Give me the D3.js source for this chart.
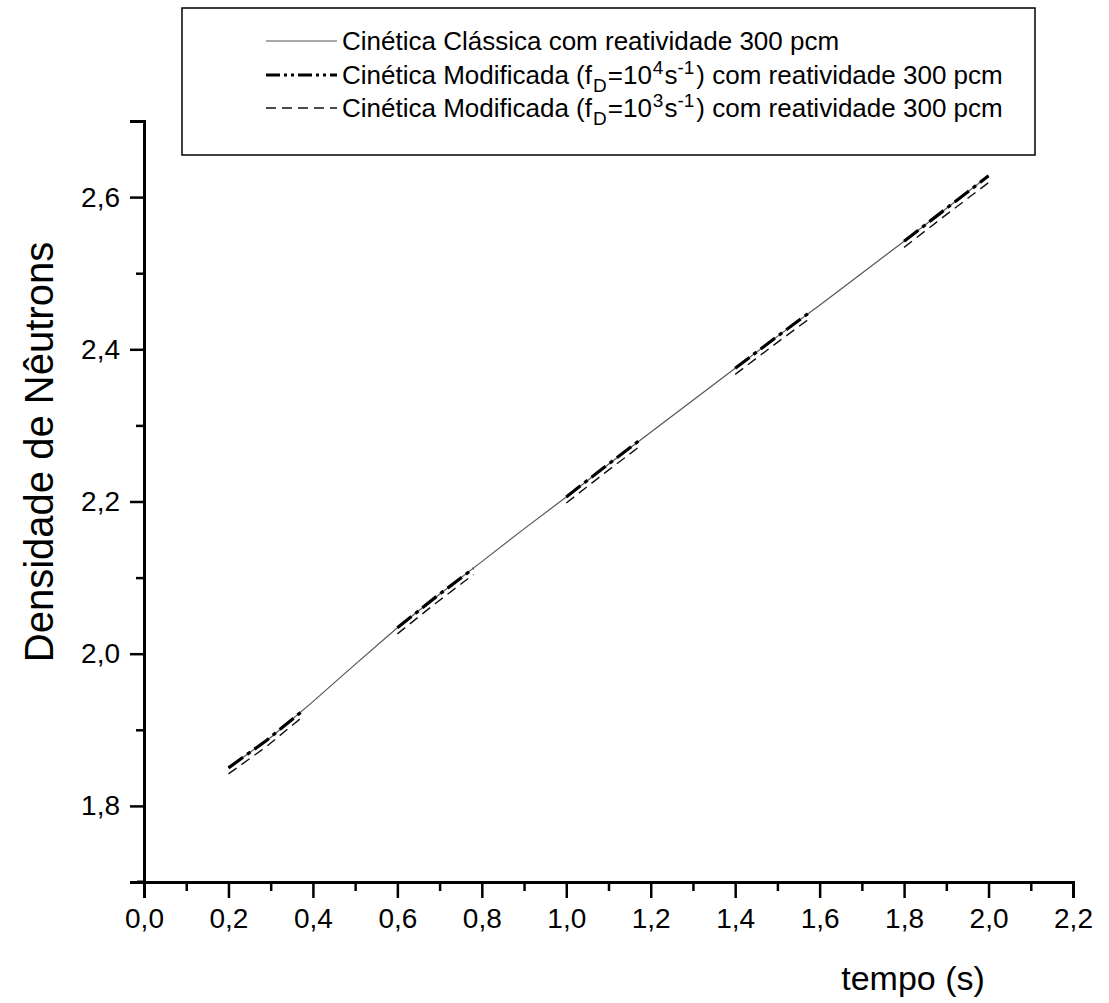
<!DOCTYPE html>
<html>
<head>
<meta charset="utf-8">
<script src="https://cdn.jsdelivr.net/npm/d3@7"></script>
<style>
  body { margin: 0; background: #fff; }
  text { font-family: "Liberation Sans", Arial, sans-serif; fill: #000; }
</style>
</head>
<body>
<svg id="chart" width="1109" height="1003"></svg>
<script>
// classical kinetics, 300 pcm
const tempo = [0.2, 0.3, 0.4, 0.5, 0.6, 0.7, 0.8, 0.9, 1.0, 1.1, 1.2, 1.3, 1.4, 1.5, 1.6, 1.7, 1.8, 1.9, 2.0];
const classica = [1.850, 1.890, 1.937, 1.986, 2.034, 2.078, 2.121, 2.164, 2.206, 2.249, 2.291, 2.333, 2.375, 2.417, 2.458, 2.500, 2.542, 2.585, 2.628];

// modified kinetics, only drawn on short pieces
const modTempo = [0.2, 0.29, 0.38, 0.6, 0.69, 0.78, 1.0, 1.09, 1.18, 1.4, 1.49, 1.58, 1.8, 1.9, 2.0];
const modTrecho = [0, 0, 0, 1, 1, 1, 2, 2, 2, 3, 3, 3, 4, 4, 4];
const mod4 = [1.850, 1.886, 1.927, 2.034, 2.074, 2.112, 2.206, 2.245, 2.283, 2.375, 2.413, 2.450, 2.542, 2.585, 2.628];
const mod3 = [1.842, 1.878, 1.919, 2.026, 2.066, 2.104, 2.198, 2.237, 2.275, 2.367, 2.405, 2.442, 2.534, 2.577, 2.619];

const xMajor = [0, 0.2, 0.4, 0.6, 0.8, 1.0, 1.2, 1.4, 1.6, 1.8, 2.0, 2.2];
const xMinor = [0.1, 0.3, 0.5, 0.7, 0.9, 1.1, 1.3, 1.5, 1.7, 1.9, 2.1];
const yMajor = [1.8, 2.0, 2.2, 2.4, 2.6];
const yMinor = [1.9, 2.1, 2.3, 2.5, 2.7];

const svg = d3.select('#chart');

const x = d3.scaleLinear().domain([0, 2.2]).range([144, 1073]);
const y = d3.scaleLinear().domain([1.7, 2.7]).range([882, 121]);

const fmt = d => d3.format('.1f')(d).replace('.', ',');

function styleAxis(g) {
  g.select('.domain').attr('stroke', '#000').attr('stroke-width', 3);
  g.selectAll('.tick line').attr('stroke', '#000').attr('stroke-width', 2.5);
  g.selectAll('.tick text').style('font-size', '28px');
}

// minor ticks first, then major ones with labels
svg.append('g')
  .attr('transform', 'translate(0,882)')
  .call(d3.axisBottom(x).tickValues(xMinor).tickSize(9).tickFormat(''))
  .call(styleAxis);
svg.append('g')
  .attr('transform', 'translate(0,882)')
  .call(d3.axisBottom(x).tickValues(xMajor).tickSize(16).tickPadding(10).tickFormat(fmt))
  .call(styleAxis);

svg.append('g')
  .attr('transform', 'translate(144,0)')
  .call(d3.axisLeft(y).tickValues(yMinor).tickSize(8).tickFormat(''))
  .call(styleAxis);
svg.append('g')
  .attr('transform', 'translate(144,0)')
  .call(d3.axisLeft(y).tickValues(yMajor).tickSize(14).tickPadding(10).tickFormat(fmt))
  .call(styleAxis);

// x axis line runs a bit past the y axis on the left
svg.append('line')
  .attr('x1', 137).attr('x2', 146)
  .attr('y1', 882).attr('y2', 882)
  .attr('stroke', '#000').attr('stroke-width', 3);

// axis titles
svg.append('text')
  .attr('x', 913)
  .attr('y', 990)
  .attr('text-anchor', 'middle')
  .style('font-size', '34px')
  .text('tempo (s)');

svg.append('text')
  .attr('transform', 'translate(53,452) rotate(-90)')
  .attr('text-anchor', 'middle')
  .style('font-size', '40px')
  .text('Densidade de Nêutrons');

// curves
const line = d3.line().x(d => x(d[0])).y(d => y(d[1]));

svg.append('path')
  .attr('d', line(tempo.map((t, i) => [t, classica[i]])))
  .attr('fill', 'none')
  .attr('stroke', '#555')
  .attr('stroke-width', 1.2);

const trechos = d3.groups(modTempo.map((t, i) => ({ t: t, k: modTrecho[i], a: mod4[i], b: mod3[i] })), d => d.k);

trechos.forEach(([k, pts]) => {
  svg.append('path')
    .attr('d', line(pts.map(p => [p.t, p.b])))
    .attr('fill', 'none')
    .attr('stroke', '#111')
    .attr('stroke-width', 1.4)
    .attr('stroke-dasharray', '10,6');
  svg.append('path')
    .attr('d', line(pts.map(p => [p.t, p.a])))
    .attr('fill', 'none')
    .attr('stroke', '#000')
    .attr('stroke-width', 3.2)
    .attr('stroke-dasharray', '18,5,4,5');
});

// legend
const leg = svg.append('g');
leg.append('rect')
  .attr('x', 182).attr('y', 8)
  .attr('width', 853).attr('height', 147)
  .attr('fill', '#fff')
  .attr('stroke', '#000')
  .attr('stroke-width', 1.5);

const legRows = [
  { y: 41, w: 1.2, c: '#555', dash: null },
  { y: 75, w: 3.2, c: '#000', dash: '14,4,3,4,3,4' },
  { y: 108, w: 1.4, c: '#111', dash: '10,6' }
];
legRows.forEach(r => {
  leg.append('line')
    .attr('x1', 266).attr('x2', 337)
    .attr('y1', r.y).attr('y2', r.y)
    .attr('stroke', r.c)
    .attr('stroke-width', r.w)
    .attr('stroke-dasharray', r.dash);
});

leg.append('text')
  .attr('x', 342).attr('y', 50)
  .style('font-size', '26px')
  .text('Cinética Clássica com reatividade 300 pcm');

function legModText(yy, exp) {
  const t = leg.append('text').attr('x', 342).attr('y', yy).style('font-size', '26px');
  t.append('tspan').text('Cinética Modificada (f');
  t.append('tspan').attr('dx', 1).attr('dy', 8).style('font-size', '19px').text('D');
  t.append('tspan').attr('dx', 1).attr('dy', -8).text('=10');
  t.append('tspan').attr('dx', 1).attr('dy', -10).style('font-size', '19px').text(exp);
  t.append('tspan').attr('dx', 1).attr('dy', 10).text('s');
  t.append('tspan').attr('dx', 0).attr('dy', -10).style('font-size', '19px').text('-1');
  t.append('tspan').attr('dx', 2).attr('dy', 10).text(') com reatividade 300 pcm');
}
legModText(84, '4');
legModText(117, '3');
</script>
</body>
</html>
